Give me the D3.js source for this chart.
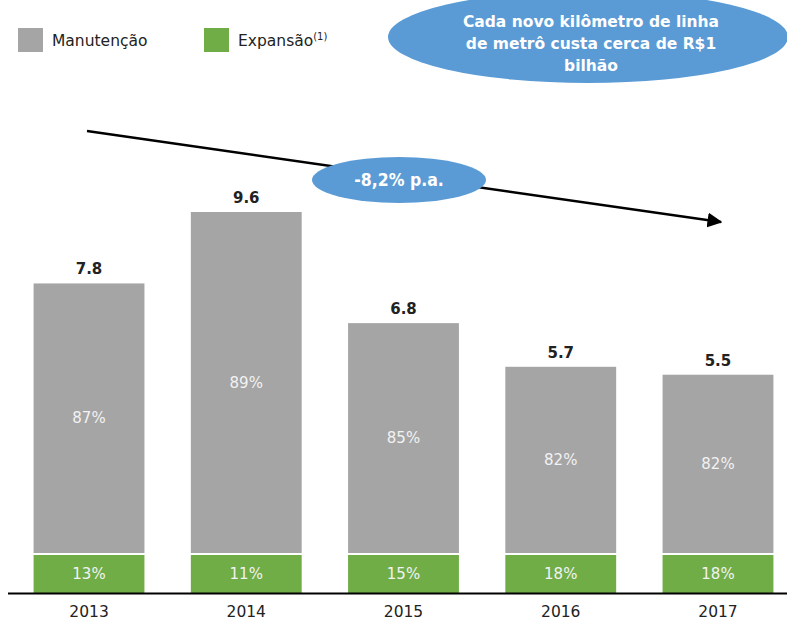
<!DOCTYPE html>
<html>
<head>
<meta charset="utf-8">
<script src="https://cdn.jsdelivr.net/npm/d3@7"></script>
<style>
  body { margin: 0; background: #fff; }
  svg { display: block; font-family: "DejaVu Sans", Verdana, sans-serif; }
</style>
</head>
<body>
<svg width="787" height="627"></svg>
<script>
const years = ["2013", "2014", "2015", "2016", "2017"];
const totals = [7.8, 9.6, 6.8, 5.7, 5.5];
const manutencao = [87, 89, 85, 82, 82];
const expansao = [13, 11, 15, 18, 18];
const calloutLines = ["Cada novo kilômetro de linha", "de metrô custa cerca de R$1", "bilhão"];
const cagrLabel = "-8,2% p.a.";

const svg = d3.select("svg");
const gray = "#a5a5a5", green = "#70ad47", blue = "#5b9bd5";

const x = d3.scaleBand().domain(years).range([10, 797]).paddingInner(0.295).paddingOuter(0.15);
const y = d3.scaleLinear().domain([0, 9.6]).range([593, 212]);
const greenH = 38;

const data = years.map((yr, i) => ({ yr, total: totals[i], man: manutencao[i], exp: expansao[i] }));

// bars
const g = svg.append("g");
g.selectAll(".gray").data(data).enter().append("rect")
    .attr("x", d => x(d.yr))
    .attr("y", d => y(d.total))
    .attr("width", x.bandwidth())
    .attr("height", d => y(0) - greenH - 2 - y(d.total))
    .attr("fill", gray);

g.selectAll(".green").data(data).enter().append("rect")
    .attr("x", d => x(d.yr))
    .attr("y", y(0) - greenH)
    .attr("width", x.bandwidth())
    .attr("height", greenH)
    .attr("fill", green);

// labels
g.selectAll(".tot").data(data).enter().append("text")
    .attr("x", d => x(d.yr) + x.bandwidth() / 2)
    .attr("y", d => y(d.total) - 9)
    .attr("text-anchor", "middle")
    .attr("font-size", 15).attr("font-weight", "bold").attr("fill", "#222")
    .text(d => d.total.toFixed(1));

g.selectAll(".pm").data(data).enter().append("text")
    .attr("x", d => x(d.yr) + x.bandwidth() / 2)
    .attr("y", d => (y(d.total) + y(0) - greenH - 2) / 2)
    .attr("dy", "0.35em")
    .attr("text-anchor", "middle")
    .attr("font-size", 15).attr("fill", "#f2f2f2")
    .text(d => d.man + "%");

g.selectAll(".pe").data(data).enter().append("text")
    .attr("x", d => x(d.yr) + x.bandwidth() / 2)
    .attr("y", y(0) - greenH / 2)
    .attr("dy", "0.35em")
    .attr("text-anchor", "middle")
    .attr("font-size", 15).attr("fill", "#f2f2f2")
    .text(d => d.exp + "%");

// axis
const axis = svg.append("g").attr("transform", `translate(0,${y(0)})`)
    .call(d3.axisBottom(x).tickSize(0).tickPadding(13));
axis.select(".domain").attr("d", "M8,0.5H787").attr("stroke", "#000").attr("stroke-width", 2);
axis.selectAll("text").attr("font-size", 15.5).attr("fill", "#222").attr("font-family", "DejaVu Sans, sans-serif");

// legend
const legend = [["Manutenção", gray, 18], ["Expansão", green, 204]];
legend.forEach(([name, col, lx]) => {
    svg.append("rect").attr("x", lx).attr("y", 28).attr("width", 25).attr("height", 24).attr("fill", col);
    const t = svg.append("text").attr("x", lx + 34).attr("y", 46)
        .attr("font-size", 15.5).attr("fill", "#222").text(name);
    if (name === "Expansão") t.append("tspan").attr("font-size", 10).attr("dy", -6).text("(1)");
});

// trend arrow
svg.append("defs").append("marker")
    .attr("id", "ah").attr("viewBox", "0 0 10 10").attr("refX", 9).attr("refY", 5)
    .attr("markerWidth", 6).attr("markerHeight", 6).attr("orient", "auto")
    .append("path").attr("d", "M0,0L10,5L0,10z").attr("fill", "#000");
svg.append("line")
    .attr("x1", 87).attr("y1", 131).attr("x2", 721).attr("y2", 222)
    .attr("stroke", "#000").attr("stroke-width", 2.5).attr("marker-end", "url(#ah)");

svg.append("ellipse").attr("cx", 399).attr("cy", 180).attr("rx", 87).attr("ry", 23).attr("fill", blue);
svg.append("text").attr("x", 399).attr("y", 180).attr("dy", "0.36em")
    .attr("text-anchor", "middle").attr("font-family", "DejaVu Sans Condensed, DejaVu Sans, sans-serif")
    .attr("font-size", 17.5).attr("font-weight", "bold").attr("fill", "#fff").text(cagrLabel);

// callout
svg.append("ellipse").attr("cx", 588).attr("cy", 37).attr("rx", 200).attr("ry", 46).attr("fill", blue);
svg.append("text").attr("x", 591).attr("y", 27).attr("text-anchor", "middle")
    .attr("font-size", 15.5).attr("font-weight", "bold").attr("fill", "#fff")
    .selectAll("tspan").data(calloutLines).enter().append("tspan")
    .attr("x", 591).attr("dy", (d, i) => i === 0 ? 0 : 22).text(d => d);
</script>
</body>
</html>
